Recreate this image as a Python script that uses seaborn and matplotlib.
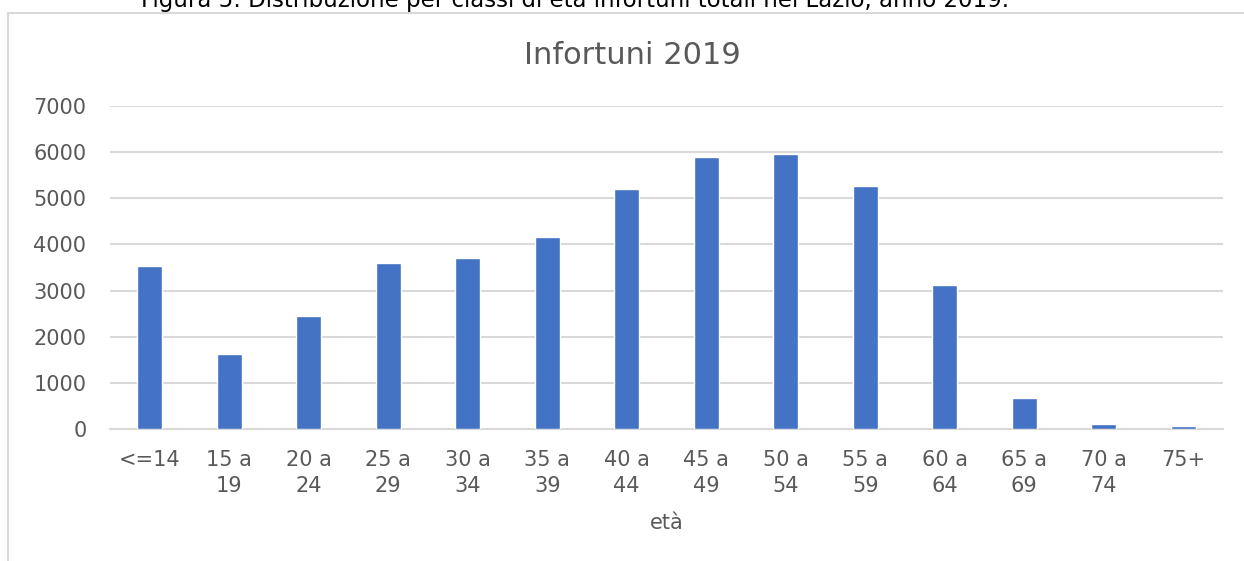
import matplotlib
matplotlib.use("Agg")
import matplotlib.pyplot as plt
import seaborn as sns
import pandas as pd
from matplotlib.patches import Rectangle

categories = ["<=14", "15 a\n19", "20 a\n24", "25 a\n29", "30 a\n34", "35 a\n39", "40 a\n44",
              "45 a\n49", "50 a\n54", "55 a\n59", "60 a\n64", "65 a\n69", "70 a\n74", "75+"]
values = [3540, 1630, 2440, 3590, 3700, 4170, 5210, 5890, 5970, 5260, 3130, 680, 110, 55]
y_ticks = [0, 1000, 2000, 3000, 4000, 5000, 6000, 7000]
title = "Infortuni 2019"
xlabel = "età"
caption = "Figura 5: Distribuzione per classi di età infortuni totali nel Lazio, anno 2019."

sns.set_theme(style="white")
plt.rcParams['font.family'] = ['DejaVu Sans']

df = pd.DataFrame({"cat": categories, "val": values})

fig = plt.figure(figsize=(12.44, 5.61), dpi=100)
ax = fig.add_axes([110/1244, (561-429)/561, (1223-110)/1244, (429-106)/561])

sns.barplot(data=df, x="cat", y="val", color="#4472C4", width=0.31, ax=ax,
            saturation=1, zorder=3)

ax.set_ylim(0, 7000)
ax.set_yticks(y_ticks)
ax.set_yticklabels([str(t) for t in y_ticks])
ax.yaxis.grid(True, color="#d9d9d9", linewidth=1.5, zorder=0)
ax.set_axisbelow(True)
for s in ["top", "right", "left"]:
    ax.spines[s].set_visible(False)
ax.spines["bottom"].set_color("#d9d9d9")
ax.spines["bottom"].set_linewidth(1.5)
ax.tick_params(axis="both", length=0, colors="#595959", labelsize=15)
ax.tick_params(axis="y", pad=17)
ax.tick_params(axis="x", pad=15)
for lbl in ax.get_xticklabels():
    lbl.set_linespacing(1.4)
ax.set_xlabel(xlabel, color="#595959", fontsize=15, labelpad=12)
ax.set_ylabel("")
fig.text(632/1244, (561-55)/561, title, ha="center", va="center",
         color="#595959", fontsize=22)

# outer chart frame
fig.patches.append(Rectangle((8/1244, -0.1), 1.2, (561-13)/561 + 0.1,
                             transform=fig.transFigure, fill=False,
                             edgecolor="#d9d9d9", linewidth=1.5))
# caption (partially cut at top, as in reference)
fig.text(575/1244, 1.0, caption, ha="center", va="center",
         fontsize=16.5, color="black")

fig.savefig("out.png", dpi=100)
